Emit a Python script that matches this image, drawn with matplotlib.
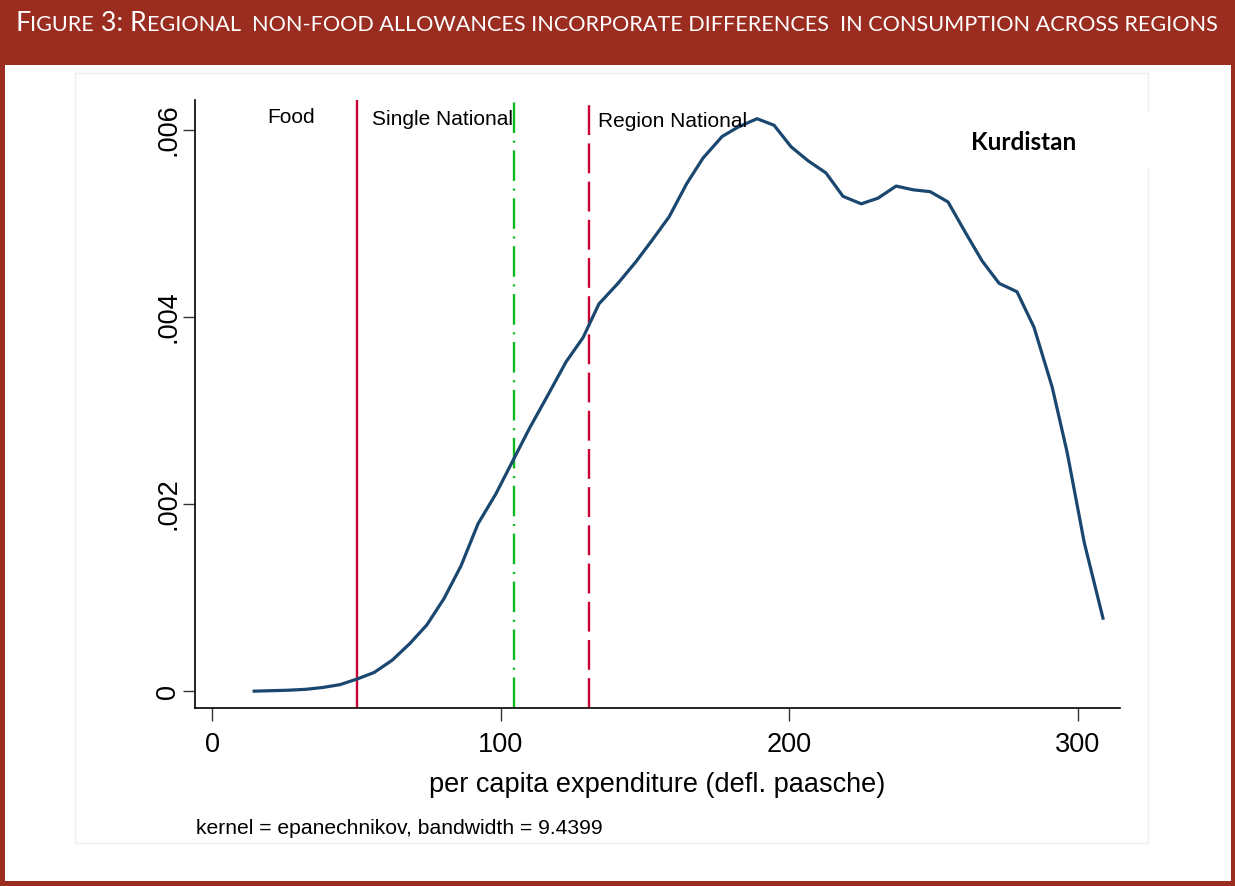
import numpy as np
import matplotlib
matplotlib.use("Agg")
import matplotlib.pyplot as plt
from matplotlib.patches import Rectangle

plt.rcParams["lines.scale_dashes"] = False

# Kernel density of per capita expenditure, Kurdistan
expenditure = [14.6, 20.5, 26.3, 32.6, 38.5, 44.4, 50.3, 56.2, 62.4, 68.6,
               74.5, 80.4, 86.3, 92.2, 98.4, 104.7, 110.2, 116.5, 122.7, 128.6,
               134.1, 140.7, 146.9, 152.5, 158.4, 164.6, 170.2, 176.8, 182.3, 188.9,
               194.8, 200.7, 206.6, 212.8, 218.7, 225.0, 230.8, 237.1, 243.0, 248.9,
               255.1, 261.0, 266.9, 272.8, 279.0, 284.9, 291.2, 296.4, 302.3, 308.8]
density = [0.0, 0.000005, 0.00001, 0.00002, 0.00004, 0.00007, 0.00013, 0.0002, 0.00033, 0.00051,
           0.00071, 0.00099, 0.00134, 0.00179, 0.00211, 0.00249, 0.00282, 0.00317, 0.00352, 0.00378,
           0.00414, 0.00436, 0.00459, 0.00482, 0.00507, 0.00543, 0.0057, 0.00593, 0.00603, 0.00612,
           0.00605, 0.00582, 0.00567, 0.00554, 0.00529, 0.00521, 0.00527, 0.0054, 0.00536, 0.00534,
           0.00523, 0.00491, 0.0046, 0.00436, 0.00427, 0.00389, 0.00325, 0.00255, 0.00159, 0.00078]

# poverty lines
food_line = 50.3
single_national = 104.7
region_national = 130.7

x_ticks = [0, 100, 200, 300]
y_ticks = [0, 0.002, 0.004, 0.006]
y_ticklabels = ["0", ".002", ".004", ".006"]

W, H = 1235, 886
brick = "#9a2d20"
fig = plt.figure(figsize=(W / 100, H / 100), dpi=100)
fig.patch.set_facecolor("white")


def px(x0, y0, w, h):
    # pixel box (top-left origin) -> figure fraction
    return (x0 / W, 1 - (y0 + h) / H), w / W, h / H


def rect(x0, y0, w, h, **kw):
    xy, ww, hh = px(x0, y0, w, h)
    fig.add_artist(Rectangle(xy, ww, hh, transform=fig.transFigure, **kw))


# frame + header band
rect(0, 0, W, 65, facecolor=brick, edgecolor="none", zorder=0)
rect(0, 0, 5, H, facecolor=brick, edgecolor="none", zorder=0)
rect(W - 4, 0, 4, H, facecolor=brick, edgecolor="none", zorder=0)
rect(0, H - 5, W, 5, facecolor=brick, edgecolor="none", zorder=0)
# faint chart border
rect(75, 73, 1073, 770, facecolor="none", edgecolor="#eeeeee", lw=1, zorder=0)

ax = fig.add_axes([195 / W, 1 - 708 / H, (1120 - 195) / W, (708 - 100) / H])
ax.plot(expenditure, density, color="#1a476f", lw=2.3, zorder=3)

ax.axvline(food_line, color="#cc0033", lw=1.7)
ax.axvline(single_national, color="#10b820", lw=1.7, dashes=(22, 5.5, 1.5, 5.5))
ax.axvline(region_national, color="#cc0033", lw=1.7, dashes=(21.5, 6))

ax.set_xlim(-5.9, 314.7)
ax.set_ylim(-0.00018, 0.00632)
ax.set_xticks(x_ticks)
ax.set_yticks(y_ticks)
ax.set_yticklabels(y_ticklabels, rotation=90, va="center")
ax.tick_params(axis="both", direction="out", length=9, width=1, color="#333333",
               labelsize=19.5, pad=8)
ax.tick_params(axis="y", pad=1)
for s in ["top", "right"]:
    ax.spines[s].set_visible(False)
for s in ["left", "bottom"]:
    ax.spines[s].set_linewidth(1.2)
ax.set_xlabel("per capita expenditure (defl. paasche)", fontsize=19.5, labelpad=10)

for lbl in ax.get_xticklabels() + ax.get_yticklabels():
    lbl.set_family("Liberation Sans")
ax.xaxis.label.set_family("Liberation Sans")

lab_kw = dict(fontsize=15, family="Liberation Sans", va="center", ha="left")
ax.text(19.1, 0.00613, "Food", **lab_kw)
ax.text(55.5, 0.00611, "Single National", **lab_kw)
ax.text(133.8, 0.00609, "Region National", **lab_kw)

fig.text(196 / W, 1 - 828 / H, "kernel = epanechnikov, bandwidth = 9.4399",
         fontsize=15.2, family="Liberation Sans", va="center", ha="left")

# white box behind region name
rect(950, 112, 205, 56, facecolor="white", edgecolor="none", zorder=1)
fig.text(1024 / W, 1 - 142 / H, "Kurdistan", fontsize=17.5, family="Lato",
         weight="bold", ha="center", va="center", zorder=2)

# small-caps header title
pieces = [("F", 19.3), ("IGURE", 15.6), (" 3: R", 19.3),
          ("EGIONAL  NON-FOOD ALLOWANCES INCORPORATE DIFFERENCES  IN CONSUMPTION ACROSS REGIONS", 15.6)]
renderer = fig.canvas.get_renderer()
xpos = 15
for txt, size in pieces:
    t = fig.text(xpos / W, 1 - 31 / H, txt, fontsize=size, family="Lato", color="white",
                 ha="left", va="baseline")
    xpos += t.get_window_extent(renderer).width

fig.savefig("out.png", dpi=100, facecolor="white")
